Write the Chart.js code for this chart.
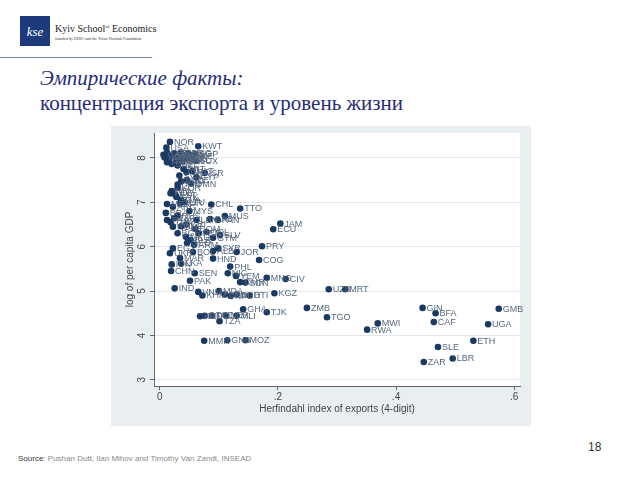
<!DOCTYPE html>
<html>
<head>
<meta charset="utf-8">
<script src="https://cdn.jsdelivr.net/npm/chart.js@4.4.1/dist/chart.umd.min.js"></script>
<style>
  body { margin: 0; width: 640px; height: 480px; background: #fff; position: relative; overflow: hidden; font-family: "Liberation Sans", Arial, sans-serif; }
  .logo { position: absolute; left: 20px; top: 16px; width: 30px; height: 30px; background: #1d3b7c; color: #fff; font: italic 13px "Liberation Serif", serif; text-align: center; line-height: 32px; }
  .school { position: absolute; left: 55px; top: 23px; font: 10px "Liberation Serif", serif; color: #222; white-space: nowrap; }
  .school sup { font-size: 5px; }
  .founded { position: absolute; left: 55px; top: 36px; font: 4px "Liberation Serif", serif; color: #333; white-space: nowrap; }
  .rule { position: absolute; left: 0; top: 57px; width: 152px; height: 1px; background: #7a84a6; }
  .t1 { position: absolute; left: 40px; top: 66px; font: italic 21px "Liberation Serif", serif; color: #282c78; }
  .t2 { position: absolute; left: 40px; top: 91px; font: 21px "Liberation Serif", serif; color: #282c78; }
  .box { position: absolute; left: 111px; top: 126px; width: 420px; height: 300px; background: #e9eff1; }
  .src { position: absolute; left: 18px; top: 454px; font-size: 8px; color: #8a8a8a; }
  .src b { color: #333; font-weight: normal; }
  .page { position: absolute; left: 588px; top: 440px; font-size: 12px; color: #333; }
</style>
</head>
<body>
<div class="logo">kse</div>
<div class="school">Kyiv School<sup>of</sup> Economics</div>
<div class="founded">founded by EERC and the Victor Pinchuk Foundation</div>
<div class="rule"></div>
<div class="t1">Эмпирические факты:</div>
<div class="t2">концентрация экспорта и уровень жизни</div>
<div class="box"><canvas id="c" width="420" height="300"></canvas></div>
<div class="src"><b>Source</b>: Pushan Dutt, Ilan Mihov and Timothy Van Zandt, INSEAD</div>
<div class="page">18</div>
<script>
// country codes, export concentration (x) and log GDP per capita (y)
const countries = ['NOR','USA','KWT','SGP','CHE','JPN','GBR','HKG','DNK','FRA','NLD','CAN','ARE','AUT','FIN','SWE','BEL','ISL','DEU','AUS','IRL','ITA','LUX','ESP','NZL','PRT','ISR','GRC','MLT','SVN','CYP','SAU','CZE','OMN','HUN','KOR','SVK','HRV','EST','POL','LVA','LTU','MEX','TUR','ARG','CHL','TTO','BRA','MYS','RUS','ZAF','MUS','GAB','PAN','LBN','THA','TUN','CRI','KAZ','ROM','JAM','ECU','DOM','BGR','PER','COL','SLV','GTM','MKD','BLR','GEO','ARM','PRY','SYR','EGY','ALB','BOL','JOR','UKR','HND','MAR','COG','LKA','IDN','PHL','CHN','SEN','NIC','YEM','PAK','CMR','SDN','MNG','CIV','IND','VNM','KHM','MDA','BEN','NPL','UZB','MRT','BGD','HTI','KGZ','GHA','TJK','ZMB','TGO','KEN','MDG','TCD','NER','MLI','TZA','MMR','GNB','MOZ','GIN','BFA','CAF','GMB','UGA','ETH','SLE','LBR','ZAR','MWI','RWA'];
const herfindahl = [.017,.011,.065,.060,.012,.024,.035,.048,.018,.022,.040,.006,.052,.008,.050,.030,.044,.056,.015,.028,.038,.012,.062,.020,.030,.040,.076,.045,.055,.033,.062,.036,.046,.053,.030,.030,.028,.020,.026,.018,.036,.042,.012,.034,.022,.087,.136,.010,.050,.030,.024,.110,.085,.098,.062,.012,.018,.045,.036,.022,.204,.192,.060,.030,.066,.079,.102,.090,.044,.052,.046,.058,.173,.099,.022,.090,.056,.130,.017,.090,.034,.168,.036,.020,.119,.019,.059,.115,.129,.051,.136,.145,.181,.213,.025,.065,.072,.100,.110,.120,.286,.314,.130,.152,.194,.141,.181,.249,.283,.068,.076,.088,.112,.130,.101,.075,.114,.145,.445,.467,.464,.574,.556,.531,.471,.496,.447,.369,.351];
const logGdp = [8.36,8.23,8.26,8.08,8.12,8.10,8.12,8.10,8.04,8.06,8.05,8.07,8.05,8.01,8.00,7.99,7.98,7.96,7.96,7.94,7.92,7.90,7.93,7.86,7.83,7.75,7.66,7.68,7.70,7.60,7.56,7.47,7.50,7.42,7.40,7.32,7.12,7.25,7.17,7.20,7.05,7.00,6.96,6.98,6.90,6.95,6.86,6.76,6.80,6.70,6.64,6.69,6.62,6.60,6.60,6.60,6.55,6.50,6.46,6.45,6.52,6.39,6.40,6.30,6.30,6.33,6.26,6.20,6.22,6.15,6.08,6.04,6.01,5.96,5.96,5.90,5.88,5.88,5.85,5.73,5.74,5.70,5.62,5.60,5.55,5.45,5.40,5.40,5.34,5.23,5.20,5.19,5.30,5.27,5.06,4.98,4.90,5.00,4.92,4.89,5.04,5.04,4.92,4.90,4.95,4.59,4.52,4.62,4.41,4.43,4.44,4.45,4.45,4.44,4.32,3.88,3.89,3.89,4.62,4.50,4.30,4.60,4.25,3.88,3.74,3.48,3.40,4.27,4.13];
const xTicks = [0, 0.2, 0.4, 0.6];
const yTicks = [3, 4, 5, 6, 7, 8];

const points = herfindahl.map((h, i) => ({ x: h, y: logGdp[i], label: countries[i] }));

// white plot region inside the grey graph box
const plotBg = {
  id: 'plotBg',
  beforeDraw(chart) {
    const a = chart.chartArea;
    chart.ctx.save();
    chart.ctx.fillStyle = '#ffffff';
    chart.ctx.fillRect(a.left, a.top, a.right - a.left, a.bottom - a.top);
    chart.ctx.restore();
  }
};

// stata style: y tick labels turned on their side
const yLabels = {
  id: 'yLabels',
  afterDraw(chart) {
    const ctx = chart.ctx, s = chart.scales.y;
    ctx.save();
    ctx.font = '10px "Liberation Sans", Arial, sans-serif';
    ctx.fillStyle = '#444';
    ctx.textAlign = 'center';
    ctx.textBaseline = 'middle';
    yTicks.forEach(v => {
      ctx.save();
      ctx.translate(31, s.getPixelForValue(v));
      ctx.rotate(-Math.PI / 2);
      ctx.fillText(String(v), 0, 0);
      ctx.restore();
    });
    ctx.restore();
  }
};

// country code to the right of each marker
const pointLabels = {
  id: 'pointLabels',
  afterDatasetsDraw(chart) {
    const ctx = chart.ctx;
    const meta = chart.getDatasetMeta(0);
    ctx.save();
    ctx.font = '9px "Liberation Sans", Arial, sans-serif';
    ctx.fillStyle = '#56677f';
    ctx.textBaseline = 'middle';
    meta.data.forEach((el, i) => {
      ctx.fillText(points[i].label, el.x + 4, el.y + 0.5);
    });
    ctx.restore();
  }
};

new Chart(document.getElementById('c'), {
  type: 'scatter',
  data: {
    datasets: [{
      data: points,
      backgroundColor: '#1b3a62',
      borderWidth: 0,
      pointRadius: 3.3
    }]
  },
  options: {
    responsive: false,
    animation: false,
    layout: { padding: { top: 7, right: 11, left: 0, bottom: 0 } },
    plugins: { legend: { display: false }, tooltip: { enabled: false } },
    scales: {
      x: {
        min: -0.01, max: 0.61,
        afterBuildTicks: s => { s.ticks = xTicks.map(v => ({ value: v })); },
        afterFit: s => { s.height = 40; },
        ticks: {
          padding: 1,
          color: '#444',
          font: { size: 10, family: '"Liberation Sans", Arial, sans-serif' },
          callback: v => v === 0 ? '0' : String(v).replace('0.', '.')
        },
        grid: { drawOnChartArea: false, tickLength: 4, tickColor: '#666' },
        border: { color: '#666' },
        title: {
          display: true, text: 'Herfindahl index of exports (4-digit)',
          color: '#444', font: { size: 10, family: '"Liberation Sans", Arial, sans-serif' },
          padding: { top: 0, bottom: 11 }
        }
      },
      y: {
        min: 2.86, max: 8.56,
        afterBuildTicks: s => { s.ticks = yTicks.map(v => ({ value: v })); },
        afterFit: s => { s.width = 43; },
        ticks: { display: false },
        grid: { color: '#e4e8ea', tickLength: 4, tickColor: '#666' },
        border: { color: '#666' },
        title: {
          display: true, text: 'log of per capita GDP',
          color: '#444', font: { size: 10, family: '"Liberation Sans", Arial, sans-serif' },
          padding: { top: 13, bottom: 0 }
        }
      }
    }
  },
  plugins: [plotBg, yLabels, pointLabels]
});
</script>
</body>
</html>
